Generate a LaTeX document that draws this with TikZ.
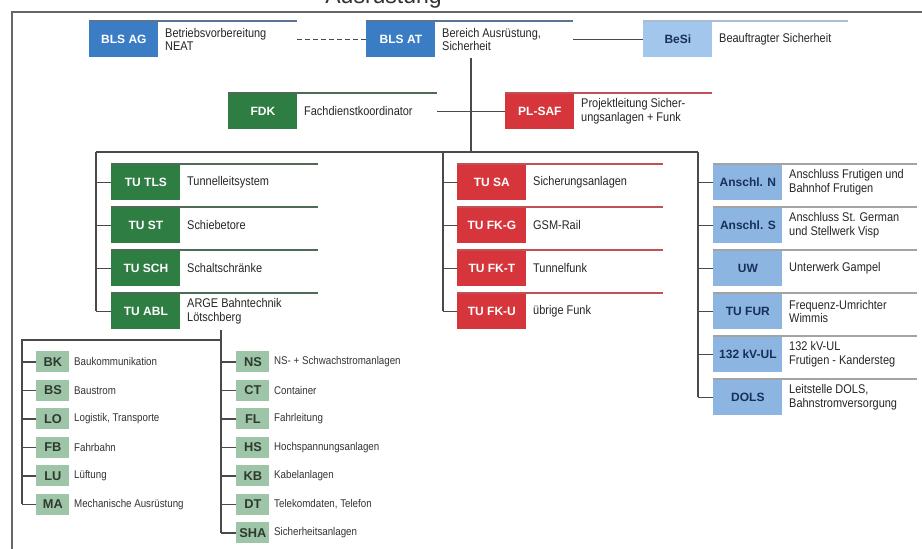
\documentclass[tikz,border=0pt]{standalone}
\usepackage{fontspec}
\setmainfont{Liberation Sans}
\newfontfamily\narrowsf[FakeStretch=0.87]{Liberation Sans}
\usetikzlibrary{calc}

\definecolor{blsblue}{HTML}{3B7DC4}
\definecolor{blsline}{HTML}{5D7395}
\definecolor{besiblue}{HTML}{A3C6EC}
\definecolor{besiline}{HTML}{A9BCD4}
\definecolor{tugreen}{HTML}{2E7D42}
\definecolor{greenline}{HTML}{4F6B57}
\definecolor{tured}{HTML}{D6363B}
\definecolor{redline}{HTML}{BF5256}
\definecolor{anblue}{HTML}{8CB5E1}
\definecolor{anline}{HTML}{A3A3A3}
\definecolor{navy}{HTML}{16305A}
\definecolor{subgreen}{HTML}{9EC5A8}
\definecolor{subtext}{HTML}{2E3A31}
\definecolor{connline}{HTML}{4A4A4A}

\tikzset{
  box/.style={minimum width=34.5pt, minimum height=18pt, inner sep=0pt, anchor=north west,
    font=\fontsize{6}{7}\selectfont\bfseries},
  blsbox/.style={box, fill=blsblue, text=white},
  besibox/.style={box, fill=besiblue, text=navy},
  greenbox/.style={box, fill=tugreen, text=white},
  redbox/.style={box, fill=tured, text=white},
  anbox/.style={box, fill=anblue, text=navy},
  subbox/.style={minimum width=16.5pt, minimum height=10.5pt, inner sep=0pt, anchor=west,
    fill=subgreen, text=subtext, font=\fontsize{6.4}{7}\selectfont\bfseries},
  lbl/.style={anchor=west, inner sep=0pt, align=left, text=black!85,
    font=\narrowsf\fontsize{6.3}{6.8}\selectfont},
  sublbl/.style={anchor=west, inner sep=0pt, text=black!80,
    font=\narrowsf\fontsize{5.6}{6}\selectfont},
  topline/.style={line width=0.8pt, draw=#1},
  conn/.style={line width=0.6pt, draw=connline},
  frame/.style={line width=1.1pt, draw=black!60}
}

\begin{document}
\begin{tikzpicture}[x=0.5pt, y=-0.5pt]
  \useasboundingbox[fill=white] (0,0) rectangle (922,549);
  \begin{scope}
    \clip (0,0) rectangle (922,549);
    \node[anchor=base west, inner sep=0pt, text=black!80, font=\fontsize{11.5}{12}\selectfont]
      (title) at (325,4) {Ausrüstung};
  \end{scope}
  \draw[frame] (12,549) -- (12,12) -- (922,12);

  % leitung
  \node[blsbox] (blsag) at (89,21) {BLS AG};
  \node[lbl] (blsag-t) at ([xshift=3pt]blsag.east) {Betriebsvorbereitung\\NEAT};
  \draw[topline=blsline] (blsag.north west) -- ++(208,0) coordinate (blsag-end);
  \node[blsbox] (blsat) at (366,21) {BLS AT};
  \node[lbl] (blsat-t) at ([xshift=3pt]blsat.east) {Bereich Ausrüstung,\\Sicherheit};
  \draw[topline=blsline] (blsat.north west) -- ++(207,0) coordinate (blsat-end);
  \node[besibox] (besi) at (643,21) {BeSi};
  \node[lbl] (besi-t) at ([xshift=3pt]besi.east) {Beauftragter Sicherheit};
  \draw[topline=besiline] (besi.north west) -- ++(205,0);
  \draw[conn, dash pattern=on 2.5pt off 1.5pt] (blsag-end |- blsag.east) -- (blsat.west);
  \draw[conn] (blsat-end |- blsat.east) -- (besi.west);

  \node[greenbox] (fdk) at (228,93) {FDK};
  \node[lbl] (fdk-t) at ([xshift=3pt]fdk.east) {Fachdienstkoordinator};
  \draw[topline=greenline] (fdk.north west) -- ++(209,0) coordinate (fdk-end);
  \node[redbox] (plsaf) at (505,93) {PL-SAF};
  \node[lbl] (plsaf-t) at ([xshift=3pt]plsaf.east) {Projektleitung Sicher-\\ungsanlagen + Funk};
  \draw[topline=redline] (plsaf.north west) -- ++(207,0);
  \draw[conn] (fdk-end |- fdk.east) -- (plsaf.west);

  % buses
  \coordinate (hub) at (471,152);
  \coordinate (lbus) at (96,152);
  \coordinate (mbus) at (443,152);
  \coordinate (rbus) at (698,152);
  \draw[conn] (blsat.south -| hub) -- (hub);
  \draw[conn] (lbus) -- (rbus);

  % teilunternehmer
  \foreach \id/\code/\txt [count=\i from 0] in {tls/TU TLS/Tunnelleitsystem, st/TU ST/Schiebetore,
      sch/TU SCH/Schaltschränke, abl/TU ABL/{ARGE Bahntechnik\\Lötschberg}} {
    \node[greenbox] (\id) at (111,164+43*\i) {\code};
    \node[lbl] (\id-t) at ([xshift=3pt]\id.east) {\txt};
    \draw[topline=greenline] (\id.north west) -- ++(207,0);
    \draw[conn] (\id.west) -- (\id.west -| lbus);
  }
  \foreach \id/\code/\txt [count=\i from 0] in {sa/TU SA/Sicherungsanlagen, fkg/TU FK-G/GSM-Rail,
      fkt/TU FK-T/Tunnelfunk, fku/TU FK-U/übrige Funk} {
    \node[redbox] (\id) at (457,164+43*\i) {\code};
    \node[lbl] (\id-t) at ([xshift=3pt]\id.east) {\txt};
    \draw[topline=redline] (\id.north west) -- ++(206,0);
    \draw[conn] (\id.west) -- (\id.west -| mbus);
  }
  \foreach \id/\code/\txt [count=\i from 0] in {ansn/Anschl. N/{Anschluss Frutigen und\\Bahnhof Frutigen},
      anss/Anschl. S/{Anschluss St. German\\und Stellwerk Visp}, uw/UW/Unterwerk Gampel,
      fur/TU FUR/{Frequenz-Umrichter\\Wimmis}, ul/132 kV-UL/{132 kV-UL\\Frutigen - Kandersteg},
      dols/DOLS/{Leitstelle DOLS,\\Bahnstromversorgung}} {
    \node[anbox] (\id) at (713,164+43*\i) {\code};
    \node[lbl] (\id-t) at ([xshift=3pt]\id.east) {\txt};
    \draw[topline=anline, line width=0.6pt] (\id.north west) -- ++(204,0);
    \draw[conn] (\id.west) -- (\id.west -| rbus);
  }
  \draw[conn] (lbus) -- (lbus |- abl.west);
  \draw[conn] (mbus) -- (mbus |- fku.west);
  \draw[conn] (rbus) -- (rbus |- dols.west);

  % gewerke ARGE
  \coordinate (sbus) at (221,340);
  \coordinate (lsub) at (22,340);
  \foreach \id/\code/\txt [count=\i from 0] in {bk/BK/Baukommunikation, bs/BS/Baustrom,
      lo/LO/{Logistik, Transporte}, fb/FB/Fahrbahn, lu/LU/Lüftung, ma/MA/Mechanische Ausrüstung} {
    \node[subbox] (\id) at (36,362+28.5*\i) {\code};
    \node[sublbl] (\id-t) at ([xshift=2pt]\id.east) {\txt};
    \draw[conn] (\id.west) -- (\id.west -| lsub);
  }
  \foreach \id/\code/\txt [count=\i from 0] in {ns/NS/NS- + Schwachstromanlagen, ct/CT/Container,
      fl/FL/Fahrleitung, hs/HS/Hochspannungsanlagen, kb/KB/Kabelanlagen,
      dt/DT/{Telekomdaten, Telefon}, sha/SHA/Sicherheitsanlagen} {
    \node[subbox] (\id) at (236,362+28.5*\i) {\code};
    \node[sublbl] (\id-t) at ([xshift=2pt]\id.east) {\txt};
    \draw[conn] (\id.west) -- (\id.west -| sbus);
  }
  \draw[conn] (abl.south -| sbus) -- (sbus |- sha.west);
  \draw[conn] (sbus) -- (lsub) -- (lsub |- ma.west);
\end{tikzpicture}
\end{document}
